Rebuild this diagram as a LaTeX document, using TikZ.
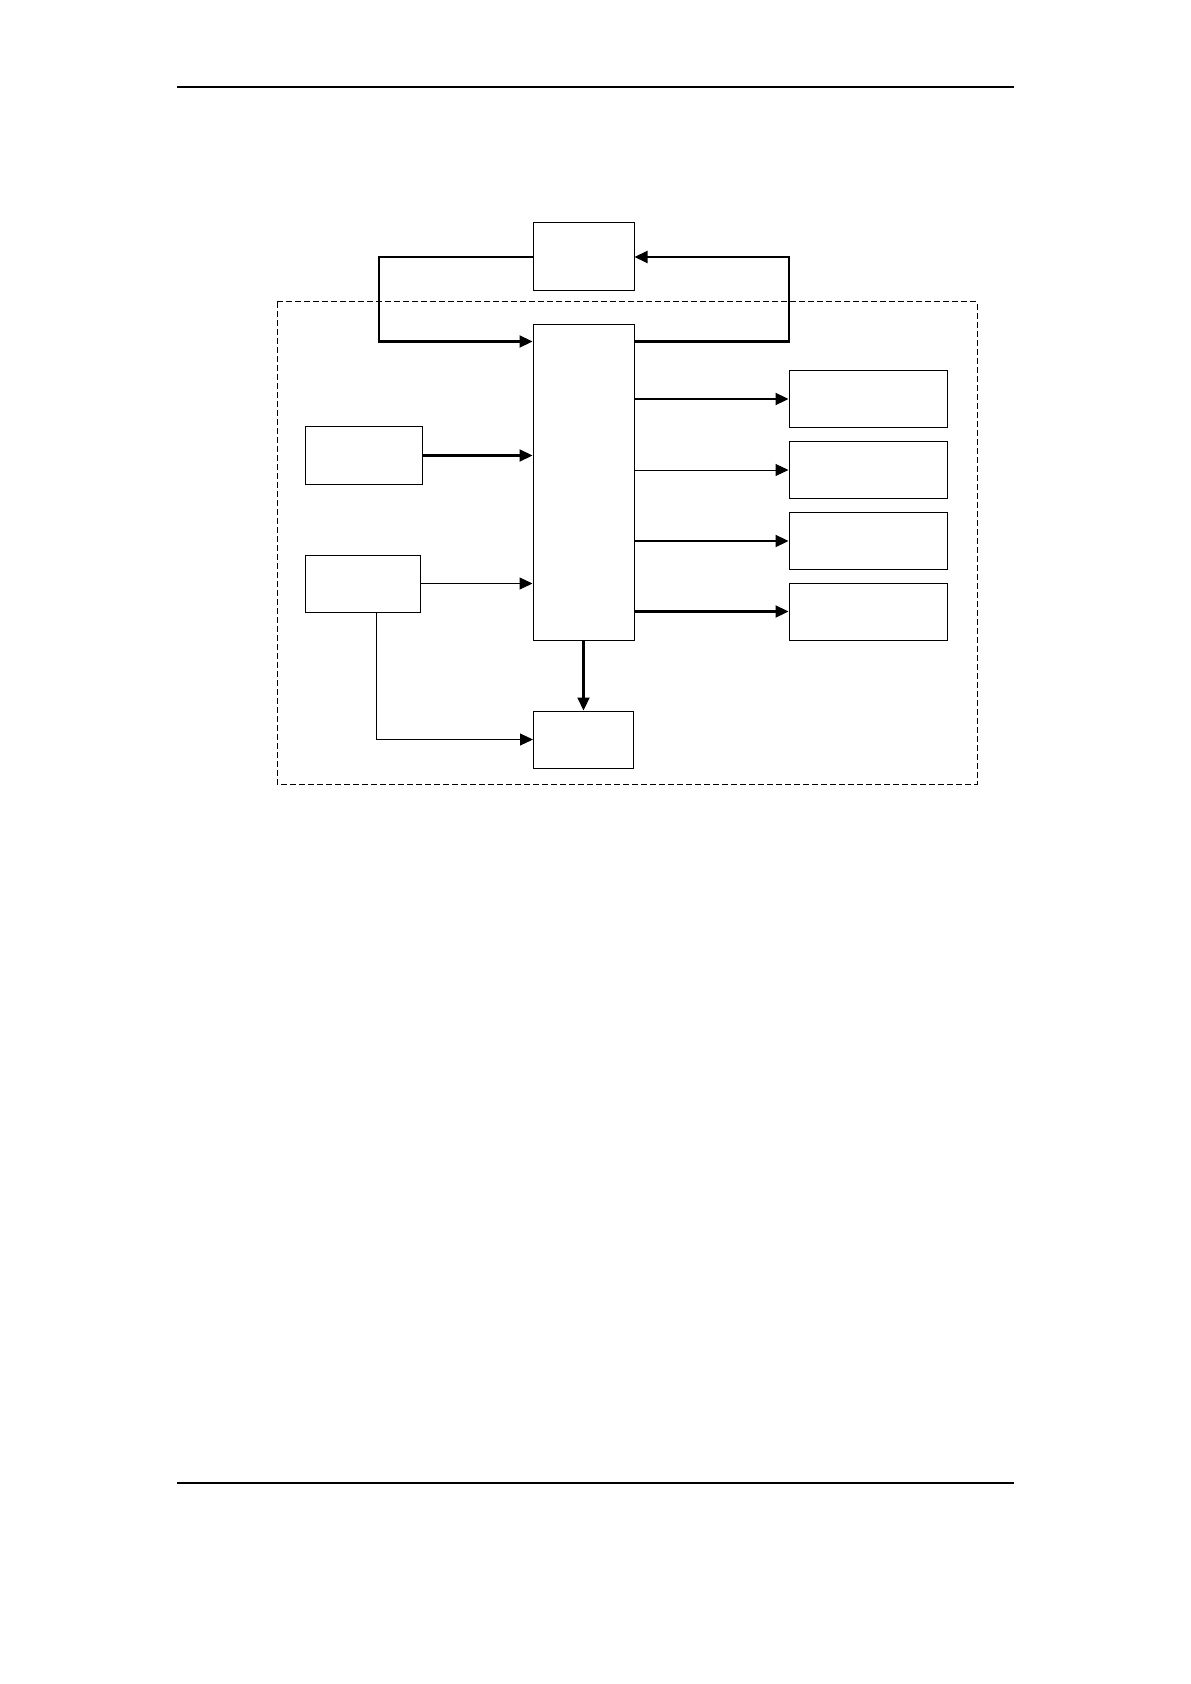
\documentclass[tikz,border=0pt]{standalone}
\usepackage{tikz}
\usetikzlibrary{arrows.meta}

\begin{document}
\begin{tikzpicture}[x=0.5pt,y=-0.5pt,
  blk/.style={draw,line width=0.5pt,inner sep=0pt,minimum height=28.5pt},
  thn/.style={line width=0.5pt,-{Triangle[length=6.5pt,width=6pt]}},
  thk/.style={line width=1.1pt,-{Triangle[length=6.5pt,width=6pt]}}]
\useasboundingbox (0,0) rectangle (1190,1684);
% page rules
\draw[line width=0.6pt] (177,87)--(1014,87);
\draw[line width=1.1pt] (177,1483)--(1014,1483);
% dashed frame
\draw[line width=0.5pt,dash pattern=on 3pt off 1.5pt] (277,302) rectangle (977,784);
% blocks
\node[blk,minimum width=50.5pt,minimum height=34pt] (top) at (583.5,257) {};
\node[blk,minimum width=50.5pt,minimum height=157.5pt] (mcu) at (583.5,482.5) {};
\node[blk,minimum width=58.5pt] (inA) at (363.5,455.5) {};
\node[blk,minimum width=57.5pt] (inB) at (362.5,583.5) {};
\node[blk,minimum width=50pt] (bot) at (583.5,739.5) {};
\foreach \i/\y in {1/399,2/470,3/541,4/611.5}
  \node[blk,minimum width=79pt] (out\i) at (868,\y) {};
% feedback loop
\coordinate (fbl) at (379,341.5); \coordinate (fbr) at (789,341.5);
\draw[thk] (top.west) -| (fbl) -- (fbl -| mcu.west);
\draw[thk] (fbr -| mcu.east) -- (fbr) |- (top.east);
% inputs
\draw[thk] (inA.east) -- (inA.east -| mcu.west);
\draw[thn] (inB.east) -- (inB.east -| mcu.west);
\coordinate (kn) at (376,739.5);
\draw[thn] (inB.south -| kn) -- (kn) -- (bot.west);
% outputs
\draw[thk] (out1.west -| mcu.east) -- (out1.west);
\draw[thn] (out2.west -| mcu.east) -- (out2.west);
\draw[thk] (out3.west -| mcu.east) -- (out3.west);
\draw[thk] (out4.west -| mcu.east) -- (out4.west);
\draw[thk] (mcu.south) -- (bot.north);
\end{tikzpicture}
\end{document}
